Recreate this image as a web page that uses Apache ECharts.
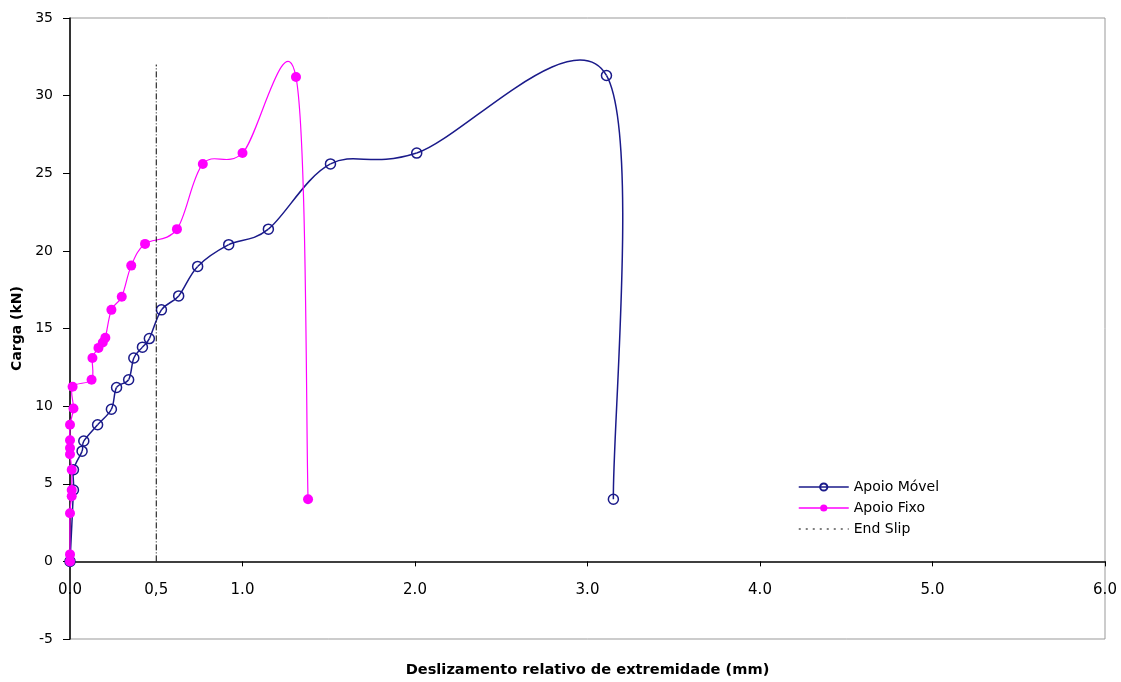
<!DOCTYPE html>
<html>
<head>
<meta charset="utf-8">
<script src="https://cdn.jsdelivr.net/npm/echarts@6/dist/echarts.min.js"></script>
<style>html,body{margin:0;padding:0;background:#fff;}#c{width:1121px;height:682px;}</style>
</head>
<body>
<div id="c"></div>
<script>
// Apoio Móvel (blue, open circles)
const movelX = [0, 0.02, 0.02, 0.07, 0.08, 0.16, 0.24, 0.27, 0.34, 0.37, 0.42, 0.46, 0.53, 0.63, 0.74, 0.92, 1.15, 1.51, 2.01, 3.11, 3.15];
const movelY = [0, 4.6, 5.9, 7.1, 7.75, 8.8, 9.8, 11.2, 11.7, 13.1, 13.8, 14.35, 16.2, 17.1, 19.0, 20.4, 21.4, 25.6, 26.3, 31.3, 4.0];
// Apoio Fixo (magenta, filled)
const fixoX = [0, 0, 0, 0.01, 0.01, 0.01, 0, 0, 0, 0, 0.02, 0.015, 0.125, 0.13, 0.165, 0.19, 0.205, 0.24, 0.30, 0.355, 0.435, 0.62, 0.77, 1.0, 1.31, 1.38];
const fixoY = [0, 0.45, 3.1, 4.2, 4.6, 5.9, 6.9, 7.3, 7.8, 8.8, 9.85, 11.25, 11.7, 13.1, 13.75, 14.1, 14.4, 16.2, 17.05, 19.05, 20.45, 21.4, 25.6, 26.3, 31.2, 4.0];
// End Slip
const endX = [0.5, 0.5];
const endY = [0, 32];
// tick labels
const xLabelValues = [0, 0.5, 1, 2, 3, 4, 5, 6];
const xTickValues = [0, 1, 2, 3, 4, 5, 6];

const zip = (a, b) => a.map((v, i) => [v, b[i]]);
const FONT = '"DejaVu Sans", Verdana, sans-serif';
const BLUE = '#1a1a8a';
const MAG = '#ff00ff';

// Excel-style smoothed curve (Catmull-Rom, 1/6 tension) through the data points, using the axis scales
function smoothCurve(xs, ys, color, width) {
  return function (params, api) {
    const p = xs.map((x, i) => api.coord([x, ys[i]]));
    const n = p.length;
    const children = [];
    for (let i = 0; i < n - 1; i++) {
      const p0 = p[Math.max(i - 1, 0)], p1 = p[i], p2 = p[i + 1], p3 = p[Math.min(i + 2, n - 1)];
      children.push({
        type: 'bezierCurve',
        shape: {
          x1: p1[0], y1: p1[1], x2: p2[0], y2: p2[1],
          cpx1: p1[0] + (p2[0] - p0[0]) / 6, cpy1: p1[1] + (p2[1] - p0[1]) / 6,
          cpx2: p2[0] - (p3[0] - p1[0]) / 6, cpy2: p2[1] - (p3[1] - p1[1]) / 6
        },
        style: { fill: null, stroke: color, lineWidth: width }
      });
    }
    return { type: 'group', children: children };
  };
}

const chart = echarts.init(document.getElementById('c'));
chart.setOption({
  animation: false,
  backgroundColor: '#fff',
  grid: { left: 70, right: 16, top: 18, bottom: 43, show: true, borderColor: '#999', borderWidth: 1, outerBoundsMode: 'none', containLabel: false },
  legend: {
    orient: 'vertical', left: 798, top: 480, padding: 0, itemWidth: 50, itemHeight: 9, itemGap: 7,
    textStyle: { fontFamily: FONT, fontSize: 14, color: '#000' },
    data: [
      { name: 'Apoio Móvel', lineStyle: { color: BLUE, width: 1.5, opacity: 1 } },
      { name: 'Apoio Fixo', lineStyle: { color: MAG, width: 1.5, opacity: 1 } },
      { name: 'End Slip', itemStyle: { opacity: 0 }, lineStyle: { color: '#000', width: 1, type: [2, 5], opacity: 1 } }
    ]
  },
  xAxis: {
    type: 'value', min: 0, max: 6,
    name: 'Deslizamento relativo de extremidade (mm)',
    nameLocation: 'middle', nameGap: 24,
    nameTextStyle: { fontFamily: FONT, fontSize: 14.6, fontWeight: 'bold', color: '#000' },
    axisLine: { onZero: true, lineStyle: { color: '#000', width: 1.5 } },
    axisTick: { show: true, length: 5, customValues: xTickValues, lineStyle: { color: '#000' } },
    axisLabel: {
      customValues: xLabelValues, margin: -56,
      fontFamily: FONT, fontSize: 15, color: '#000',
      formatter: v => (v === 0.5 ? '0,5' : v.toFixed(1))
    },
    splitLine: { show: false }
  },
  yAxis: {
    type: 'value', min: -5, max: 35, interval: 5,
    name: 'Carga (kN)', nameLocation: 'middle', nameGap: 43,
    nameTextStyle: { fontFamily: FONT, fontSize: 14, fontWeight: 'bold', color: '#000' },
    axisLine: { show: true, onZero: true, lineStyle: { color: '#000', width: 1.5 } },
    axisTick: { show: true, length: 7, lineStyle: { color: '#000' } },
    axisLabel: { margin: 17, fontFamily: FONT, fontSize: 14, color: '#000' },
    splitLine: { show: false }
  },
  series: [
    {
      name: 'Apoio Móvel curve', type: 'custom', data: [[0, 0]], z: 2, silent: true,
      renderItem: smoothCurve(movelX, movelY, BLUE, 1.5)
    },
    {
      name: 'Apoio Móvel', type: 'line', z: 3,
      data: zip(movelX, movelY),
      symbol: 'circle', symbolSize: 10,
      lineStyle: { color: BLUE, width: 1.5, opacity: 0 },
      itemStyle: { color: 'rgba(255,255,255,0)', borderColor: BLUE, borderWidth: 1.5 }
    },
    {
      name: 'Apoio Fixo curve', type: 'custom', data: [[0, 0]], z: 4, silent: true,
      renderItem: smoothCurve(fixoX, fixoY, MAG, 1.2)
    },
    {
      name: 'Apoio Fixo', type: 'line', z: 5,
      data: zip(fixoX, fixoY),
      symbol: 'circle', symbolSize: 10,
      lineStyle: { color: MAG, width: 1.2, opacity: 0 },
      itemStyle: { color: MAG }
    },
    {
      name: 'End Slip', type: 'line', z: 6,
      data: zip(endX, endY),
      symbol: 'none',
      lineStyle: { color: '#000', width: 1, type: [6, 2, 1, 2] },
      itemStyle: { color: '#000' }
    }
  ]
});
</script>
</body>
</html>
